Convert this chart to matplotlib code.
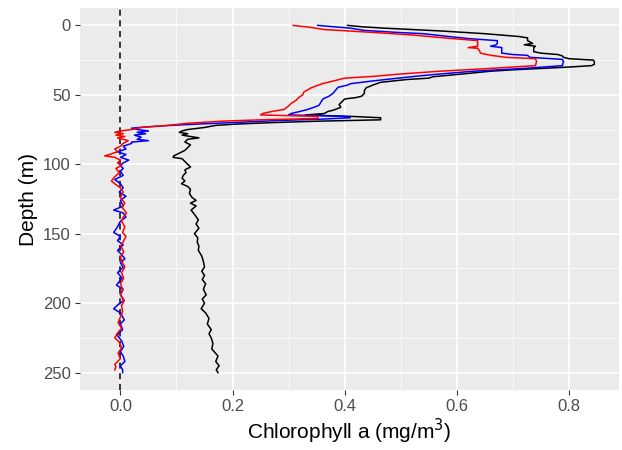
import matplotlib
matplotlib.use("Agg")
import matplotlib.pyplot as plt

# -------------------------------
# Profile data (depth in m, chlorophyll a in mg/m3)
# -------------------------------
black_depth = [0, 1, 2, 3, 4, 5, 6, 7, 8, 9, 11, 13, 14, 15, 16, 19, 20, 21, 22, 23,
               24, 25, 26, 28, 29, 30, 31, 32, 33, 35, 37, 38, 39, 41, 43, 45, 47, 49,
               51, 52, 53, 55, 57, 59, 61, 62, 63.5, 64.5, 65.5, 66.5, 68, 69, 70, 71,
               72, 73.5, 75, 76, 77, 78, 79, 80, 81, 82, 84, 86, 88, 90, 92, 94, 95, 96,
               98, 100, 102, 104, 106, 108, 110, 112, 114, 116, 118, 121, 124, 126, 128,
               130, 133, 136, 140, 143, 146, 150, 153, 156, 159, 162, 166, 170, 174, 177,
               180, 183, 186, 190, 194, 197, 200, 204, 207, 211, 215, 219, 222, 225, 229,
               233, 238, 242, 245, 248, 250]
black_chl = [0.405, 0.43, 0.47, 0.52, 0.57, 0.61, 0.65, 0.68, 0.71, 0.726, 0.726, 0.735,
             0.72, 0.74, 0.737, 0.737, 0.75, 0.78, 0.788, 0.79, 0.80, 0.843, 0.845, 0.845,
             0.84, 0.80, 0.75, 0.70, 0.66, 0.61, 0.557, 0.55, 0.51, 0.464, 0.45, 0.438,
             0.435, 0.435, 0.43, 0.42, 0.40, 0.395, 0.39, 0.393, 0.38, 0.37, 0.363, 0.33,
             0.41, 0.464, 0.464, 0.35, 0.27, 0.21, 0.17, 0.15, 0.12, 0.11, 0.105, 0.12,
             0.11, 0.125, 0.14, 0.12, 0.115, 0.125, 0.12, 0.115, 0.105, 0.095, 0.094,
             0.11, 0.115, 0.12, 0.125, 0.115, 0.117, 0.112, 0.11, 0.115, 0.109, 0.12,
             0.125, 0.123, 0.128, 0.135, 0.125, 0.135, 0.126, 0.132, 0.139, 0.135, 0.14,
             0.132, 0.138, 0.137, 0.14, 0.139, 0.145, 0.148, 0.15, 0.145, 0.15, 0.146,
             0.152, 0.148, 0.153, 0.146, 0.15, 0.144, 0.152, 0.158, 0.155, 0.162, 0.158,
             0.162, 0.165, 0.163, 0.174, 0.17, 0.176, 0.171, 0.174]

blue_depth = [0, 1, 2, 3.6, 5, 6, 8, 9.5, 11, 13, 14, 15, 16, 17, 20, 21, 21.6, 23, 24.5,
              26, 29, 31, 33, 35, 36.5, 38, 40, 42, 43, 44.6, 47, 49, 51, 53, 55, 57.6,
              59, 60.5, 62, 63.5, 64.5, 65.5, 66.5, 67.5, 68.5, 70, 71, 72, 73, 74, 75,
              76, 77, 78, 79, 80.5, 82, 83, 84, 85, 87, 89, 91, 93, 95, 97, 99, 101, 103,
              105, 108, 111, 114, 117, 120, 123, 126, 130, 133, 135, 138, 141, 145, 149,
              152, 155, 158, 162, 165, 168, 171, 174, 178, 182, 187, 190, 194, 198, 201,
              204, 207, 212, 215, 219, 223, 227, 231, 235, 238, 242, 245, 248, 250]
blue_chl = [0.352, 0.38, 0.41, 0.434, 0.49, 0.54, 0.585, 0.62, 0.672, 0.672, 0.67, 0.66,
            0.68, 0.68, 0.68, 0.70, 0.726, 0.73, 0.788, 0.79, 0.788, 0.72, 0.63, 0.57,
            0.53, 0.495, 0.45, 0.41, 0.405, 0.388, 0.383, 0.379, 0.372, 0.361, 0.358,
            0.354, 0.345, 0.334, 0.32, 0.304, 0.30, 0.398, 0.41, 0.36, 0.28, 0.20, 0.14,
            0.09, 0.05, 0.02, 0.03, 0.05, 0.03, 0.045, 0.025, 0.037, 0.03, 0.05, 0.02,
            0.02, 0.005, 0.01, -0.005, 0.01, 0.0, 0.015, 0.005, 0.0, 0.005, 0.0, 0.005,
            -0.01, 0.0, 0.005, -0.002, 0.01, 0.0, 0.005, -0.012, 0.005, 0.01, 0.0,
            -0.005, -0.012, 0.0, -0.005, 0.005, -0.005, 0.002, 0.008, 0.0, 0.005,
            -0.005, 0.003, -0.007, 0.005, 0.0, 0.006, -0.004, -0.012, 0.0, 0.007, 0.0,
            0.004, -0.006, 0.002, 0.006, 0.0, 0.005, 0.008, 0.0, 0.004, 0.004]

red_depth = [0, 1.5, 3, 5, 7, 9, 11, 13, 15, 16, 16.5, 18, 20, 21.5, 23, 24, 26, 29, 30,
             31, 33, 35, 36.7, 38, 40, 42, 45, 48, 50, 52, 54, 56, 58, 60.5, 62, 63.4,
             64.5, 65.5, 67, 68, 69, 70.5, 72, 73.5, 75, 76, 77, 78, 79, 80, 81, 83, 85,
             87, 89, 91, 93, 94, 95, 97, 99, 101, 103, 106, 109, 112, 114, 117, 120, 124,
             128, 131, 135, 138, 141, 145, 149, 152, 155, 159, 163, 167, 171, 174, 178,
             182, 186, 190, 194, 198, 202, 206, 210, 214, 218, 222, 225, 228, 232, 236,
             240, 244, 246, 248]
red_chl = [0.308, 0.34, 0.363, 0.447, 0.523, 0.577, 0.637, 0.637, 0.637, 0.62, 0.637,
           0.64, 0.642, 0.66, 0.687, 0.74, 0.742, 0.74, 0.70, 0.66, 0.57, 0.50, 0.452,
           0.40, 0.38, 0.36, 0.34, 0.327, 0.325, 0.318, 0.313, 0.305, 0.30, 0.292, 0.27,
           0.254, 0.25, 0.352, 0.352, 0.25, 0.18, 0.12, 0.085, 0.037, 0.02, 0.0, -0.01,
           0.005, -0.008, 0.008, -0.005, 0.014, 0.005, 0.0, -0.01, -0.005, -0.02,
           -0.028, -0.01, 0.0, -0.005, 0.002, -0.008, -0.002, -0.01, -0.016, -0.01, 0.0,
           0.005, 0.0, 0.008, 0.003, 0.011, 0.005, 0.002, 0.008, 0.004, 0.01, 0.006,
           0.001, 0.006, 0.0, 0.004, 0.008, 0.002, 0.006, 0.0, 0.004, 0.0, 0.007, 0.002,
           0.004, 0.0, -0.004, 0.002, -0.006, -0.01, -0.002, 0.002, -0.004, 0.0, -0.01,
           -0.008, -0.01]

x_ticks = [0.0, 0.2, 0.4, 0.6, 0.8]
y_ticks = [0, 50, 100, 150, 200, 250]

# -------------------------------
# Figure (ggplot-like grey theme)
# -------------------------------
plt.rcParams["font.family"] = ["Liberation Sans", "DejaVu Sans"]

fig = plt.figure(figsize=(6.22, 4.5), dpi=100)
ax = fig.add_axes([80 / 622, 1 - 390 / 450, 539 / 622, 382 / 450])
ax.set_facecolor("#EBEBEB")
for s in ax.spines.values():
    s.set_visible(False)

ax.set_xticks(x_ticks)
ax.set_xticks([-0.1, 0.1, 0.3, 0.5, 0.7, 0.9], minor=True)
ax.set_yticks(y_ticks)
ax.set_yticks([25, 75, 125, 175, 225], minor=True)
ax.grid(which="major", color="white", linewidth=1.1)
ax.grid(which="minor", color="white", linewidth=0.55)
ax.set_axisbelow(True)

ax.axvline(0, color="black", linestyle=(0, (4, 3)), linewidth=1.1)

ax.plot(black_chl, black_depth, color="black", linewidth=1.1)
ax.plot(blue_chl, blue_depth, color="blue", linewidth=1.1)
ax.plot(red_chl, red_depth, color="red", linewidth=1.1)

ax.set_xlim(-0.072, 0.889)
ax.set_ylim(262.5, -12.5)

ax.set_xticklabels([f"{v:.1f}" for v in x_ticks])
ax.tick_params(which="major", length=3.5, width=0.8, color="#333333",
               labelcolor="#4D4D4D", labelsize=12, pad=3)
ax.tick_params(which="minor", length=0)

ax.set_xlabel("Chlorophyll a (mg/m$^3$)", fontsize=15, labelpad=2)
ax.set_ylabel("Depth (m)", fontsize=15, labelpad=4)

fig.savefig("out.png", dpi=100)
